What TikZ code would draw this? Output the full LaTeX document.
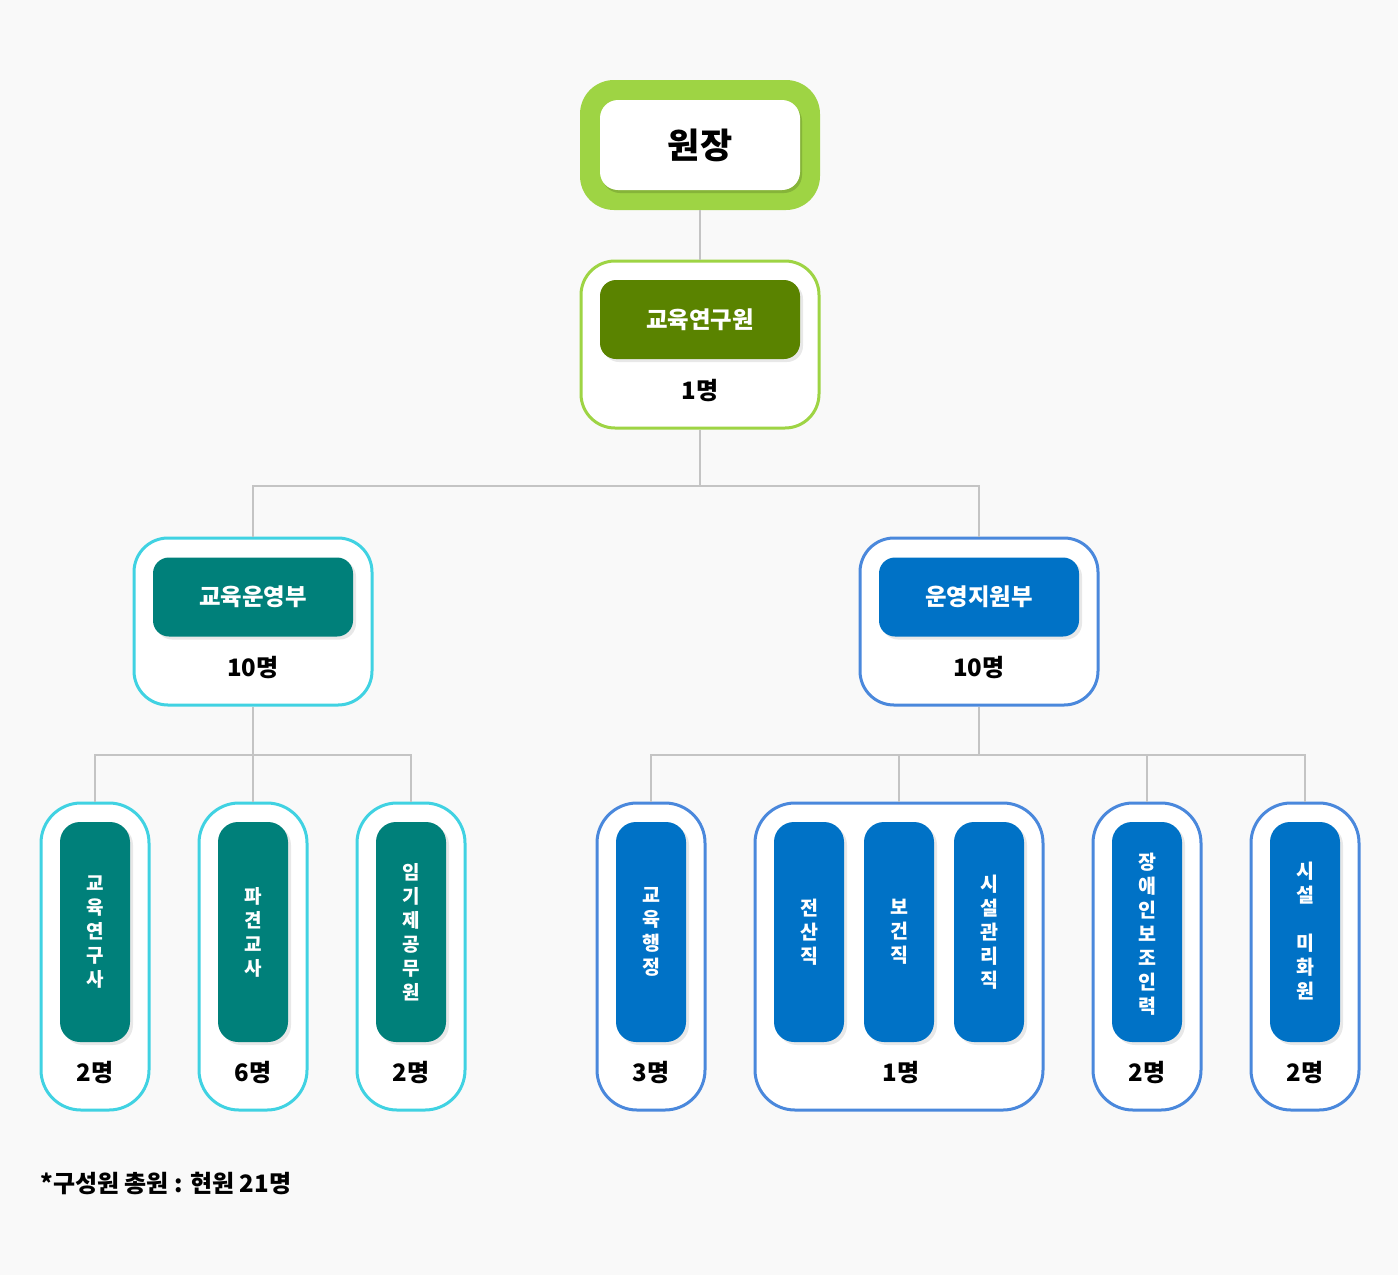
\documentclass[tikz,border=0pt]{standalone}
\usepackage{fontspec}
\setmainfont{Noto Sans CJK KR}
\usetikzlibrary{shadows}
\definecolor{bgc}{HTML}{F9F9F9}
\definecolor{lgreen}{HTML}{9ED444}
\definecolor{dgreen}{HTML}{5A8300}
\definecolor{tealc}{HTML}{00807A}
\definecolor{cyanc}{HTML}{40D2E2}
\definecolor{bluec}{HTML}{0072C6}
\definecolor{bblue}{HTML}{4A88DC}
\definecolor{linec}{HTML}{C4C4C4}
\tikzset{
  conn/.style={draw=linec, line width=1pt},
  outerbox/.style={rectangle, rounded corners=17pt, fill=white, line width=1.5pt, inner sep=0pt},
  softshadow/.style={drop shadow={shadow xshift=1.5pt, shadow yshift=-1.5pt, opacity=0.09, fill=black}},
  headbox/.style={rectangle, rounded corners=8pt, inner sep=0pt, minimum width=100pt, minimum height=39.5pt,
    text=white, font=\fontsize{11.7}{14}\selectfont\bfseries, softshadow},
  colbox/.style={rectangle, rounded corners=10pt, inner sep=0pt, minimum width=35pt, minimum height=110pt, softshadow},
  coltext/.style={text=white, align=center, inner sep=0pt, font=\fontsize{9.5}{12}\selectfont\bfseries},
  coltextb/.style={coltext, font=\fontsize{9.75}{12}\selectfont\bfseries},
  lowbox/.style={outerbox, rounded corners=20pt, minimum width=54pt, minimum height=153.5pt},
  count/.style={font=\fontsize{12}{14}\selectfont\bfseries, text=black, inner sep=0pt},
}
\begin{document}
\begin{tikzpicture}[x=0.5pt,y=-0.5pt]
\fill[bgc] (0,0) rectangle (1398,1275);
\useasboundingbox (0,0) rectangle (1398,1275);

% ---- top
\node[rectangle, rounded corners=17pt, fill=lgreen, minimum width=120pt, minimum height=65pt, inner sep=0pt] (top) at (700,145) {};
\node[rectangle, rounded corners=9pt, fill=white, minimum width=100pt, minimum height=45pt, inner sep=0pt,
  drop shadow={shadow xshift=1pt, shadow yshift=-1.5pt, opacity=0.15, fill=black},
  font=\fontsize{17.5}{20}\selectfont\bfseries] (topin) at (700,145) {원장};

% ---- connector junctions
\coordinate (b1) at (700,486);
\coordinate (b2) at (253,755);
\coordinate (b3) at (979,755);

% ---- research
\node[outerbox, draw=lgreen, minimum width=119pt, minimum height=83.5pt] (res) at (700,344.5) {};
\node[headbox, fill=dgreen] (resh) at (700,319.5) {교육연구원};
\node[count] (resc) at (700,391) {1명};

% ---- ops
\node[outerbox, draw=cyanc, minimum width=119pt, minimum height=83.5pt] (ops) at (253,621.5) {};
\node[headbox, fill=tealc] (opsh) at (253,597) {교육운영부};
\node[count] (opsc) at (253,668) {10명};

% ---- support
\node[outerbox, draw=bblue, minimum width=119pt, minimum height=83.5pt] (sup) at (979,621.5) {};
\node[headbox, fill=bluec] (suph) at (979,597) {운영지원부};
\node[count] (supc) at (979,668) {10명};

% ---- bottom left
\node[lowbox, draw=cyanc] (c1) at (95,956.5) {};
\node[lowbox, draw=cyanc] (c2) at (253,956.5) {};
\node[lowbox, draw=cyanc] (c3) at (411,956.5) {};
\node[colbox, fill=tealc] (c1i) at (95,932) {};
\node[colbox, fill=tealc] (c2i) at (253,932) {};
\node[colbox, fill=tealc] (c3i) at (411,932) {};
\node[coltext] (c1t) at (95,932) {교\\육\\연\\구\\사};
\node[coltext] (c2t) at (253,932) {파\\견\\교\\사};
\node[coltext] (c3t) at (411,932) {임\\기\\제\\공\\무\\원};
\node[count] (c1c) at (95,1073) {2명};
\node[count] (c2c) at (253,1073) {6명};
\node[count] (c3c) at (411,1073) {2명};

% ---- bottom right
\node[lowbox, draw=bblue] (d1) at (651,956.5) {};
\node[lowbox, draw=bblue, minimum width=144pt] (d2) at (899,956.5) {};
\node[lowbox, draw=bblue] (d3) at (1147,956.5) {};
\node[lowbox, draw=bblue] (d4) at (1305,956.5) {};
\node[colbox, fill=bluec] (d1i) at (651,932) {};
\node[colbox, fill=bluec] (d2a) at (809,932) {};
\node[colbox, fill=bluec] (d2b) at (899,932) {};
\node[colbox, fill=bluec] (d2c) at (989,932) {};
\node[colbox, fill=bluec] (d3i) at (1147,932) {};
\node[colbox, fill=bluec] (d4i) at (1305,932) {};
\node[coltextb] (d1t) at (651,932) {교\\육\\행\\정};
\node[coltextb] (d2at) at (809,932) {전\\산\\직};
\node[coltextb] (d2bt) at (899,932) {보\\건\\직};
\node[coltextb] (d2ct) at (989,932) {시\\설\\관\\리\\직};
\node[coltextb] (d3t) at (1147,934) {장\\애\\인\\보\\조\\인\\력};
\node[coltextb] (d4t) at (1305,931) {시\\설\\~\\미\\화\\원};
\node[count] (d1c) at (651,1073) {3명};
\node[count] (d2cnt) at (901,1073) {1명};
\node[count] (d3c) at (1147,1073) {2명};
\node[count] (d4c) at (1305,1073) {2명};

% ---- lines
\draw[conn] (top.south) -- (res.north);
\draw[conn] (res.south) -- (b1);
\draw[conn] (ops.north) |- (b1) -| (sup.north);
\draw[conn] (ops.south) -- (b2);
\draw[conn] (c1.north) |- (b2) -| (c3.north);
\draw[conn] (c2.north) -- (b2);
\draw[conn] (sup.south) -- (b3);
\draw[conn] (d1.north) |- (b3) -| (d4.north);
\draw[conn] (d2.north) -- (d2.north |- b3);
\draw[conn] (d3.north) -- (d3.north |- b3);

% ---- footer
\node[anchor=west, inner sep=0pt, font=\fontsize{12}{14}\selectfont\bfseries] (foot) at (40,1183) {*구성원 총원 : 현원 21명};
\end{tikzpicture}
\end{document}
